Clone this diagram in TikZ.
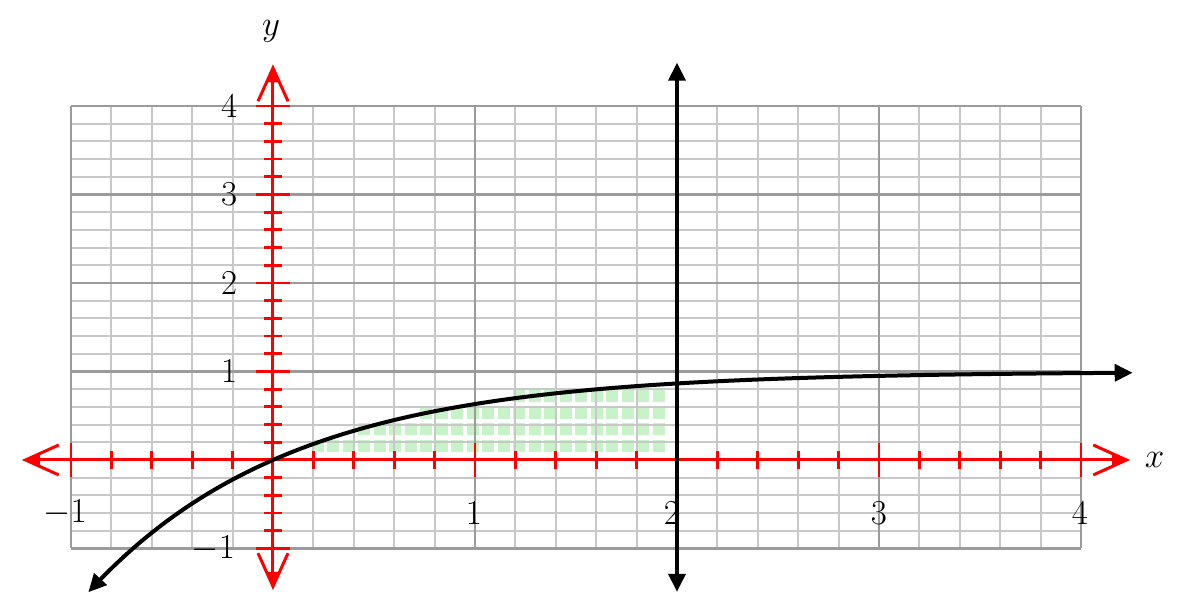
\documentclass[tikz,border=0pt]{standalone}
\usetikzlibrary{arrows.meta}
\definecolor{gminor}{RGB}{200,200,200}
\definecolor{gmajor}{RGB}{155,155,155}
\definecolor{sqgreen}{RGB}{200,242,200}
\begin{document}
\begin{tikzpicture}[x=5.05cm, y=2.2125cm, font=\fontsize{25}{30}\selectfont,
  gridminor/.style={draw=gminor, line width=0.05cm},
  gridmajor/.style={draw=gmajor, line width=0.06cm},
  sqfill/.style={fill=sqgreen},
  axisline/.style={draw=red, line width=0.075cm},
  barbs/.style={{Straight Barb[length=0.83cm,width=0.75cm]}-{Straight Barb[length=0.83cm,width=0.75cm]}},
  spikes/.style={{Triangle[length=0.45cm,width=0.26cm]}-{Triangle[length=0.45cm,width=0.26cm]}},
  ticksty/.style={draw=red, line width=0.07cm},
  curvesty/.style={draw=black, line width=0.1cm},
  btips/.style={{Triangle[length=0.45cm,width=0.42cm]}-{Triangle[length=0.45cm,width=0.42cm]}},
  lbl/.style={inner sep=0pt, outer sep=0pt}]
\useasboundingbox (-1.3515,-1.7288) rectangle (4.505,5.1977);
% green squares
\foreach \j/\ks in {0/0,1/3,2/7,3/13}{
  \foreach \k in {\ks,...,22}{
    \fill[sqfill] ({0.193+0.0767*\k},{0.09+0.187*\j}) rectangle ++(0.059,0.14);
  }
}
% grid
\draw[gridminor] (-1,-1) grid[xstep=0.2,ystep=0.2] (4,4);
\draw[gridmajor] (-1,-1) grid[step=1] (4,4);
% axes
\coordinate (xl) at (-1.243,0);
\coordinate (xr) at (4.243,0);
\coordinate (yb) at (0,-1.469);
\coordinate (yt) at (0,4.47);
\draw[axisline, barbs] (xl) -- (xr);
\draw[axisline, spikes] (xl) -- (xr);
\draw[axisline, barbs] (yb) -- (yt);
\draw[axisline, spikes] (yb) -- (yt);
% ticks
\foreach \i in {-5,...,20}{
  \pgfmathsetmacro{\tl}{ifthenelse(mod(\i,5)==0,0.42,0.22)}
  \pgfmathsetmacro{\tll}{2*\tl}
  \draw[ticksty] ({\i/5},0) ++(0cm,-\tl cm) -- ++(0cm,\tll cm);
  \draw[ticksty] (0,{\i/5}) ++(-\tl cm,0cm) -- ++(\tll cm,0cm);
}
% curve
\draw[curvesty, btips] plot[domain=-0.914:4.257, samples=150, smooth] (\x,{1-exp(-\x)});
% vertical line x=2
\coordinate (vb) at (2,-1.49);
\coordinate (vt) at (2,4.49);
\draw[curvesty, btips] (vb) -- (vt);
% labels
\node[lbl] (ly) at (-0.01,4.845) {$y$};
\node[lbl] (lx) at (4.364,0) {$x$};
\node[lbl] (xm1) at (-1.03,-0.6) {$-1$};
\node[lbl] (x1) at (0.995,-0.6) {$1$};
\node[lbl] (x2) at (1.975,-0.6) {$2$};
\node[lbl] (x3) at (3.0,-0.6) {$3$};
\node[lbl] (x4) at (3.995,-0.6) {$4$};
\node[lbl, anchor=east] (y4) at (-0.178,4) {$4$};
\node[lbl, anchor=east] (y3) at (-0.178,3) {$3$};
\node[lbl, anchor=east] (y2) at (-0.178,2) {$2$};
\node[lbl, anchor=east] (y1) at (-0.178,1) {$1$};
\node[lbl, anchor=east] (ym1) at (-0.188,-1) {$-1$};
\end{tikzpicture}
\end{document}
